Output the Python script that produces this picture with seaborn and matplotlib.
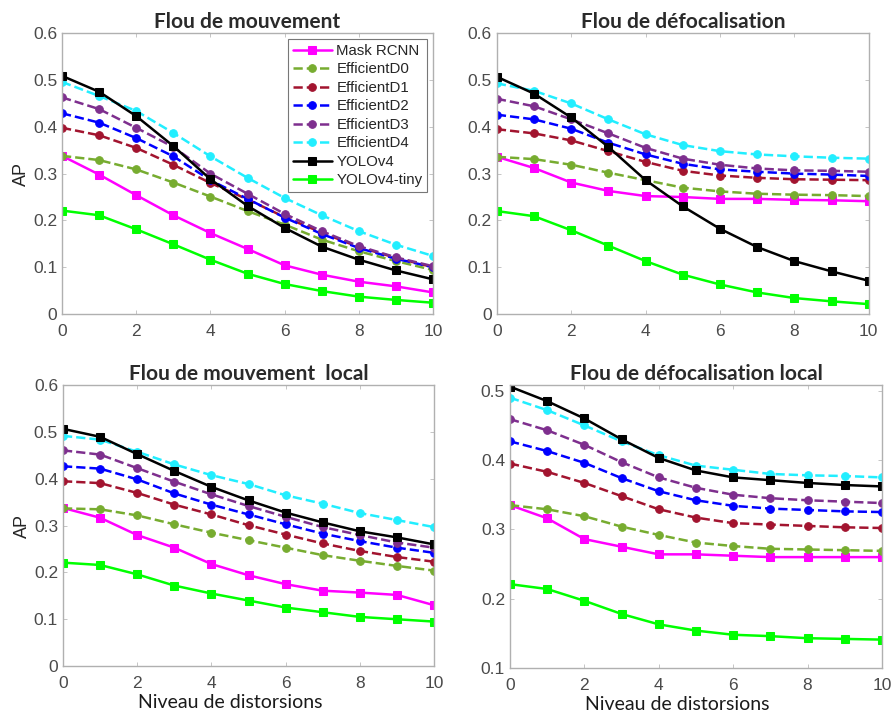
import numpy as np
import pandas as pd
import seaborn as sns
from matplotlib import pyplot as plt
from matplotlib.ticker import FuncFormatter

levels = list(range(11))
models = ['Mask RCNN', 'EfficientD0', 'EfficientD1', 'EfficientD2', 'EfficientD3',
          'EfficientD4', 'YOLOv4', 'YOLOv4-tiny']

# Flou de mouvement
motion_mask = [0.338, 0.298, 0.254, 0.211, 0.173, 0.139, 0.104, 0.084, 0.069, 0.059, 0.046]
motion_d0 = [0.338, 0.329, 0.309, 0.281, 0.251, 0.220, 0.191, 0.159, 0.134, 0.113, 0.094]
motion_d1 = [0.398, 0.382, 0.355, 0.319, 0.280, 0.245, 0.207, 0.174, 0.143, 0.120, 0.100]
motion_d2 = [0.429, 0.409, 0.376, 0.337, 0.286, 0.246, 0.206, 0.171, 0.141, 0.118, 0.100]
motion_d3 = [0.463, 0.438, 0.398, 0.357, 0.300, 0.257, 0.214, 0.177, 0.145, 0.121, 0.102]
motion_d4 = [0.496, 0.466, 0.434, 0.387, 0.337, 0.291, 0.248, 0.211, 0.177, 0.148, 0.124]
motion_yolo = [0.509, 0.475, 0.423, 0.359, 0.288, 0.231, 0.184, 0.144, 0.116, 0.093, 0.074]
motion_tiny = [0.221, 0.211, 0.181, 0.149, 0.116, 0.086, 0.064, 0.049, 0.037, 0.030, 0.024]

# Flou de défocalisation
defocus_mask = [0.336, 0.312, 0.281, 0.263, 0.252, 0.250, 0.246, 0.246, 0.244, 0.243, 0.241]
defocus_d0 = [0.336, 0.331, 0.319, 0.302, 0.286, 0.270, 0.262, 0.257, 0.255, 0.254, 0.252]
defocus_d1 = [0.395, 0.386, 0.371, 0.348, 0.325, 0.306, 0.296, 0.291, 0.288, 0.287, 0.286]
defocus_d2 = [0.426, 0.416, 0.396, 0.366, 0.341, 0.321, 0.309, 0.304, 0.300, 0.298, 0.295]
defocus_d3 = [0.460, 0.444, 0.416, 0.386, 0.355, 0.332, 0.319, 0.311, 0.307, 0.306, 0.304]
defocus_d4 = [0.493, 0.477, 0.450, 0.416, 0.384, 0.361, 0.348, 0.341, 0.337, 0.334, 0.332]
defocus_yolo = [0.507, 0.471, 0.420, 0.357, 0.286, 0.230, 0.182, 0.143, 0.113, 0.091, 0.071]
defocus_tiny = [0.220, 0.209, 0.179, 0.146, 0.113, 0.084, 0.063, 0.046, 0.034, 0.027, 0.021]

# Flou de mouvement local
lmotion_mask = [0.338, 0.317, 0.280, 0.253, 0.218, 0.194, 0.175, 0.161, 0.157, 0.152, 0.130]
lmotion_d0 = [0.337, 0.335, 0.322, 0.303, 0.285, 0.269, 0.253, 0.237, 0.225, 0.214, 0.204]
lmotion_d1 = [0.395, 0.391, 0.370, 0.345, 0.324, 0.301, 0.281, 0.262, 0.246, 0.233, 0.223]
lmotion_d2 = [0.427, 0.422, 0.399, 0.369, 0.345, 0.324, 0.303, 0.283, 0.267, 0.253, 0.242]
lmotion_d3 = [0.461, 0.452, 0.423, 0.394, 0.367, 0.342, 0.319, 0.297, 0.280, 0.264, 0.253]
lmotion_d4 = [0.492, 0.484, 0.458, 0.431, 0.408, 0.389, 0.365, 0.347, 0.327, 0.312, 0.297]
lmotion_yolo = [0.507, 0.490, 0.453, 0.417, 0.383, 0.354, 0.328, 0.307, 0.288, 0.275, 0.260]
lmotion_tiny = [0.221, 0.216, 0.196, 0.172, 0.155, 0.140, 0.125, 0.115, 0.105, 0.100, 0.095]

# Flou de défocalisation local
ldefocus_mask = [0.335, 0.316, 0.286, 0.275, 0.264, 0.264, 0.262, 0.260, 0.260, 0.260, 0.260]
ldefocus_d0 = [0.335, 0.329, 0.319, 0.304, 0.292, 0.281, 0.276, 0.272, 0.271, 0.270, 0.269]
ldefocus_d1 = [0.395, 0.383, 0.367, 0.348, 0.329, 0.317, 0.309, 0.307, 0.305, 0.303, 0.302]
ldefocus_d2 = [0.427, 0.413, 0.396, 0.374, 0.355, 0.342, 0.334, 0.330, 0.328, 0.326, 0.325]
ldefocus_d3 = [0.459, 0.443, 0.422, 0.397, 0.375, 0.360, 0.350, 0.345, 0.342, 0.340, 0.338]
ldefocus_d4 = [0.490, 0.472, 0.450, 0.427, 0.407, 0.392, 0.386, 0.380, 0.378, 0.377, 0.375]
ldefocus_yolo = [0.506, 0.485, 0.460, 0.430, 0.403, 0.385, 0.375, 0.371, 0.367, 0.364, 0.362]
ldefocus_tiny = [0.221, 0.214, 0.197, 0.178, 0.163, 0.154, 0.148, 0.146, 0.143, 0.142, 0.141]

panels = [
    ('Flou de mouvement', [motion_mask, motion_d0, motion_d1, motion_d2, motion_d3,
                           motion_d4, motion_yolo, motion_tiny]),
    ('Flou de défocalisation', [defocus_mask, defocus_d0, defocus_d1, defocus_d2, defocus_d3,
                                defocus_d4, defocus_yolo, defocus_tiny]),
    ('Flou de mouvement  local', [lmotion_mask, lmotion_d0, lmotion_d1, lmotion_d2, lmotion_d3,
                                  lmotion_d4, lmotion_yolo, lmotion_tiny]),
    ('Flou de défocalisation local', [ldefocus_mask, ldefocus_d0, ldefocus_d1, ldefocus_d2,
                                      ldefocus_d3, ldefocus_d4, ldefocus_yolo, ldefocus_tiny]),
]

colors = ['#ff00ff', '#77ac30', '#a2142f', '#0000ff', '#7e2f8e', '#22eeff', '#000000', '#00ff00']
styles = ['-', '--', '--', '--', '--', '--', '-', '-']
markers = ['s', 'o', 'o', 'o', 'o', 'o', 's', 's']

sns.set_style('white')
plt.rcParams['font.family'] = ['Liberation Sans', 'DejaVu Sans']

fig = plt.figure(figsize=(8.92, 7.16), dpi=100)
positions = [
    [0.0695, 0.5615, 0.416, 0.392],
    [0.557, 0.5615, 0.417, 0.392],
    [0.0706, 0.0698, 0.416, 0.392],
    [0.5717, 0.067, 0.417, 0.395],
]

for i, (title, series) in enumerate(panels):
    ax = fig.add_axes(positions[i])
    for name, vals, c, ls, mk in zip(models, series, colors, styles, markers):
        df = pd.DataFrame({'level': levels, 'AP': vals})
        sns.lineplot(data=df, x='level', y='AP', ax=ax, color=c, linestyle=ls,
                     marker=mk, markersize=6 if mk == 's' else 5.5, markeredgecolor=c,
                     linewidth=1.8, label=name if i == 0 else None, legend=False,
                     **({'dashes': (4, 2.5)} if ls == '--' else {}))
    ax.set_xlim(0, 10)
    ax.set_xticks(range(0, 11, 2))
    if i == 3:
        ax.set_ylim(0.1, 0.508)
        ax.set_yticks([0.1, 0.2, 0.3, 0.4, 0.5])
    else:
        ax.set_ylim(0, 0.6)
        ax.set_yticks(np.arange(0, 0.61, 0.1))
    ax.yaxis.set_major_formatter(FuncFormatter(lambda v, p: f'{v:g}'))
    ax.tick_params(direction='in', length=3, width=0.6, colors='#bbbbbb', labelcolor='#4a4a4a',
                   labelsize=12.5, top=True, right=True, bottom=True, left=True)
    ax.tick_params(axis='x', pad=7)
    for sp in ax.spines.values():
        sp.set_color('#b0b0b0')
        sp.set_linewidth(1.0)
    ax.set_title(title, fontsize=15, fontfamily='Lato', fontweight='bold', color='#2a2a2a', pad=4)
    if i >= 2:
        ax.set_xlabel('Niveau de distorsions', fontsize=14, fontfamily='Lato',
                      color='#1a1a1a')
        ax.xaxis.set_label_coords(0.45, -0.1)
    else:
        ax.set_xlabel('')
    ax.set_ylabel('AP' if i in (0, 2) else '', fontsize=13, color='#262626', labelpad=2)
    if i == 0:
        leg = ax.legend(loc='upper right', fontsize=10.8, frameon=True, fancybox=False,
                        edgecolor='#555555', handlelength=2.6, borderpad=0.3,
                        labelspacing=0.3, handletextpad=0.3, borderaxespad=0.4)
        leg.get_frame().set_linewidth(0.8)

fig.savefig('out.png', dpi=100)
